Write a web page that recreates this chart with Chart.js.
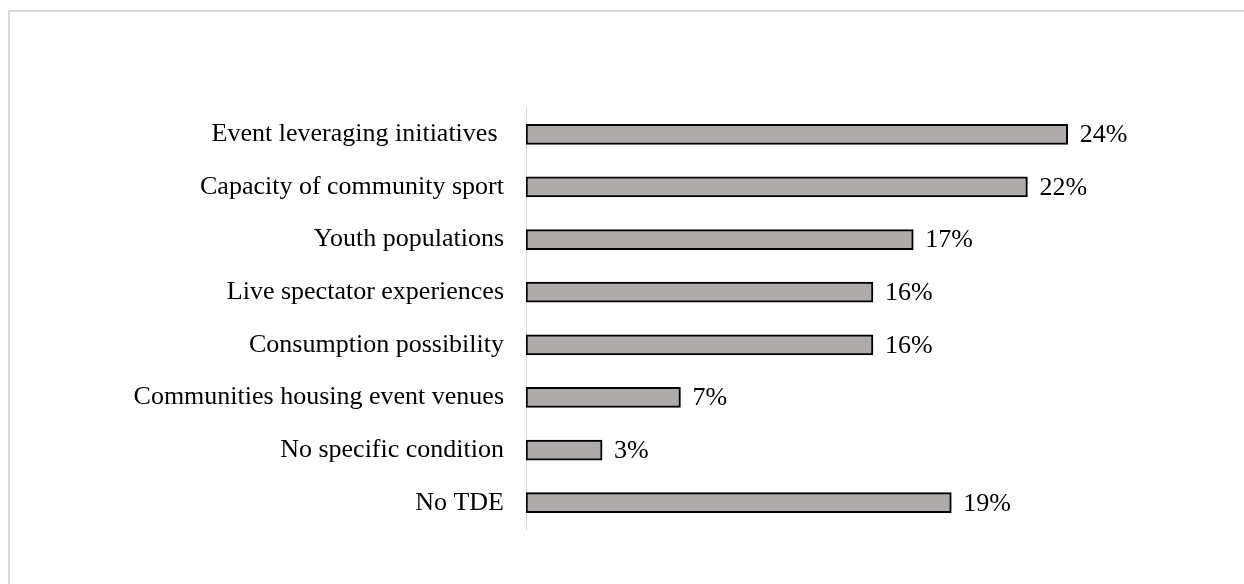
<!DOCTYPE html>
<html>
<head>
<meta charset="utf-8">
<script src="https://cdn.jsdelivr.net/npm/chart.js@4"></script>
<style>
  html, body { margin: 0; padding: 0; background: #fff; }
  #frame {
    position: absolute; left: 8px; top: 10px; width: 1240px; height: 580px;
    border: 2px solid #d9d9d9; box-sizing: border-box;
  }
  #wrap { position: absolute; left: 0; top: 0; width: 1244px; height: 584px; }
</style>
</head>
<body>
<div id="frame"></div>
<div id="wrap"><canvas id="chart" width="1244" height="584"></canvas></div>
<script>
// categories, top to bottom
const categories = [
  'Event leveraging initiatives ',
  'Capacity of community sport',
  'Youth populations',
  'Live spectator experiences',
  'Consumption possibility',
  'Communities housing event venues',
  'No specific condition',
  'No TDE'
];
// bar lengths (percent)
const values = [24.2, 22.4, 17.3, 15.5, 15.5, 6.9, 3.4, 19.0];
// value labels as printed
const valueLabels = ['24%', '22%', '17%', '16%', '16%', '7%', '3%', '19%'];

const FONT = '"Liberation Serif", "Times New Roman", serif';

// labels at the end of each bar
const endLabels = {
  id: 'endLabels',
  afterDatasetsDraw(chart) {
    const ctx = chart.ctx;
    const meta = chart.getDatasetMeta(0);
    ctx.save();
    ctx.font = '26px ' + FONT;
    ctx.fillStyle = '#000';
    ctx.textBaseline = 'middle';
    ctx.textAlign = 'left';
    meta.data.forEach((bar, i) => {
      ctx.fillText(valueLabels[i], bar.x + 12, bar.y + 1);
    });
    ctx.restore();
  }
};

new Chart(document.getElementById('chart'), {
  type: 'bar',
  data: {
    labels: categories,
    datasets: [{
      data: values,
      backgroundColor: '#afabab',
      borderColor: '#000',
      borderWidth: 2,
      borderSkipped: false,
      barThickness: 20
    }]
  },
  options: {
    indexAxis: 'y',
    responsive: false,
    animation: false,
    layout: { padding: { top: 108, bottom: 55, left: 0, right: 136 } },
    plugins: { legend: { display: false }, tooltip: { enabled: false } },
    scales: {
      x: {
        min: 0, max: 26,
        display: false
      },
      y: {
        afterFit(scale) { scale.width = 526; },
        grid: { display: false, drawTicks: false },
        border: { display: true, color: '#d9d9d9', width: 1 },
        ticks: {
          color: '#000',
          padding: 22,
          font: { family: FONT, size: 26 }
        }
      }
    }
  },
  plugins: [endLabels]
});
</script>
</body>
</html>
